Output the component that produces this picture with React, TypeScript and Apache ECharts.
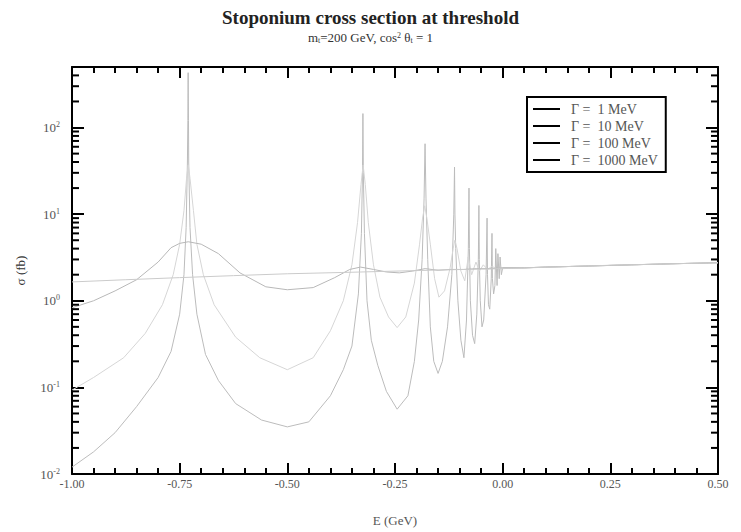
import React, { useEffect, useRef } from "react";
import * as echarts from "echarts";

const FONT = "Liberation Serif";

const seriesNames = ["Γ =  1 MeV", "Γ =  10 MeV", "Γ =  100 MeV", "Γ =  1000 MeV"];
const seriesColors = ["#bcbcbc", "#d6d6d6", "#b8b8b8", "#cbcbcb"];

const xTickMin = -1.0;
const xTickMax = 0.5;
const xTickStep = 0.25;
const yMin = 0.01;
const yMax = 500;
const yMinorMultipliers = [2, 3, 4, 5, 6, 7, 8, 9];
const yDecades = [0.01, 0.1, 1, 10, 100];

// Γ = 1 MeV
const e1 = [-1.0, -0.95, -0.9, -0.85, -0.8, -0.77, -0.75, -0.74, -0.735, -0.732, -0.731, -0.7303, -0.7295, -0.729, -0.726, -0.72, -0.71, -0.69, -0.66, -0.62, -0.56, -0.5, -0.45, -0.4, -0.37, -0.35, -0.335, -0.328, -0.3255, -0.3245, -0.3235, -0.321, -0.315, -0.305, -0.29, -0.27, -0.245, -0.22, -0.205, -0.195, -0.187, -0.1825, -0.181, -0.1802, -0.1795, -0.178, -0.174, -0.168, -0.16, -0.15, -0.14, -0.128, -0.118, -0.1135, -0.1118, -0.1108, -0.109, -0.104, -0.097, -0.09, -0.084, -0.0797, -0.0782, -0.0772, -0.075, -0.07, -0.065, -0.06, -0.0565, -0.0552, -0.0542, -0.052, -0.048, -0.044, -0.0385, -0.0362, -0.0352, -0.033, -0.03, -0.0265, -0.0248, -0.0238, -0.021, -0.018, -0.016, -0.013, -0.011, -0.008, -0.006, -0.003, 0.0, 0.05, 0.1, 0.2, 0.3, 0.4, 0.5];
const s1 = [0.012, 0.018, 0.03, 0.06, 0.13, 0.26, 0.7, 2.0, 7, 40, 120, 430, 120, 40, 7, 2.0, 0.7, 0.24, 0.12, 0.065, 0.042, 0.035, 0.04, 0.08, 0.16, 0.3, 1.2, 6, 30, 145, 30, 6, 1.0, 0.35, 0.18, 0.09, 0.056, 0.08, 0.2, 0.6, 3, 15, 40, 65, 40, 15, 3, 0.5, 0.2, 0.145, 0.2, 0.5, 2, 10, 35, 10, 4, 1, 0.35, 0.22, 0.6, 4, 20, 4, 1, 0.4, 0.32, 0.7, 3, 12.6, 3, 1, 0.5, 0.6, 2, 9, 2, 0.9, 0.8, 1.8, 6, 1.8, 1.2, 1.5, 4, 1.5, 3.5, 1.8, 3.2, 2.0, 2.4, 2.4, 2.45, 2.52, 2.6, 2.68, 2.75];

// Γ = 10 MeV
const e10 = [-1.0, -0.95, -0.88, -0.83, -0.79, -0.765, -0.75, -0.74, -0.734, -0.73, -0.726, -0.718, -0.71, -0.695, -0.67, -0.62, -0.564, -0.5, -0.44, -0.4, -0.37, -0.35, -0.337, -0.329, -0.324, -0.319, -0.312, -0.3, -0.285, -0.265, -0.245, -0.225, -0.205, -0.193, -0.186, -0.181, -0.176, -0.168, -0.158, -0.148, -0.135, -0.122, -0.115, -0.111, -0.106, -0.097, -0.088, -0.08, -0.072, -0.062, -0.054, -0.045, -0.035, -0.025, -0.015, 0.0, 0.05, 0.1, 0.2, 0.3, 0.4, 0.5];
const s10 = [0.093, 0.13, 0.22, 0.42, 0.9, 2.0, 4.5, 11, 26, 37, 26, 11, 4.5, 2.0, 0.9, 0.38, 0.22, 0.16, 0.22, 0.45, 1.0, 2.6, 8, 22, 37, 22, 8, 2.6, 1.1, 0.65, 0.49, 0.65, 1.6, 4.5, 9, 12.5, 9, 4.5, 1.8, 1.1, 1.3, 2.4, 4, 5, 4, 2.2, 1.7, 3.2, 2.0, 2.8, 2.2, 2.6, 2.3, 2.5, 2.35, 2.4, 2.4, 2.45, 2.52, 2.6, 2.68, 2.75];

// Γ = 100 MeV
const e100 = [-1.0, -0.95, -0.9, -0.85, -0.8, -0.77, -0.75, -0.73, -0.7, -0.66, -0.61, -0.55, -0.5, -0.44, -0.39, -0.355, -0.33, -0.3, -0.27, -0.24, -0.21, -0.18, -0.15, -0.12, -0.09, -0.06, -0.03, 0.0, 0.05, 0.1, 0.2, 0.3, 0.4, 0.5];
const s100 = [0.83, 1.0, 1.3, 1.75, 2.8, 4.1, 4.6, 4.8, 4.5, 3.5, 2.1, 1.45, 1.34, 1.42, 1.85, 2.3, 2.45, 2.3, 2.15, 2.1, 2.2, 2.35, 2.25, 2.3, 2.3, 2.35, 2.35, 2.4, 2.4, 2.45, 2.52, 2.6, 2.68, 2.75];

// Γ = 1000 MeV
const e1000 = [-1.0, -0.875, -0.75, -0.625, -0.5, -0.375, -0.25, -0.125, 0.0, 0.125, 0.25, 0.375, 0.5];
const s1000 = [1.65, 1.75, 1.85, 1.95, 2.05, 2.12, 2.2, 2.28, 2.35, 2.46, 2.57, 2.66, 2.75];

const curveX = [e1, e10, e100, e1000];
const curveY = [s1, s10, s100, s1000];

const axisBlack = { color: "#000", width: 2 };

export default function App() {
  const ref = useRef<HTMLDivElement>(null);

  useEffect(() => {
    if (!ref.current) return;
    const chart = echarts.init(ref.current, null, { renderer: "svg" });

    const minorTickData: number[][] = [];
    yDecades.forEach((d) => {
      yMinorMultipliers.forEach((m) => {
        const v = d * m;
        if (v < yMax) minorTickData.push([xTickMin, v]);
      });
    });

    const lineSeries = seriesNames.map((name, i) => ({
      name,
      type: "line",
      data: curveX[i].map((x, j) => [x, curveY[i][j]]),
      showSymbol: false,
      symbol: "none",
      lineStyle: { color: seriesColors[i], width: 1 },
      itemStyle: { color: "#000" },
      z: 2,
    }));

    const yLabelFmt = (v: number) => {
      const p = Math.log10(v);
      const r = Math.round(p);
      if (Math.abs(p - r) > 1e-6) return "";
      return "10{sup|" + r + "}";
    };

    const option: any = {
      animation: false,
      backgroundColor: "#fff",
      textStyle: { fontFamily: FONT },
      title: {
        text: "Stoponium cross section at threshold",
        subtext: "m{sub|t}=200 GeV, cos{sup|2} θ{sub|t} = 1",
        left: "center",
        top: 3,
        padding: [5, 0, 5, 28],
        itemGap: 4,
        textStyle: { fontFamily: FONT, fontSize: 19, fontWeight: "bold", color: "#222" },
        subtextStyle: {
          fontFamily: FONT,
          fontSize: 13,
          color: "#333",
          rich: {
            sub: { fontSize: 8, verticalAlign: "bottom", fontFamily: FONT, color: "#333" },
            sup: { fontSize: 8, verticalAlign: "top", fontFamily: FONT, color: "#333" },
          },
        },
      },
      legend: {
        data: seriesNames,
        orient: "vertical",
        left: 527,
        top: 97,
        padding: [5, 8, 5, 6],
        itemGap: 3,
        itemWidth: 27,
        itemHeight: 2,
        icon: "rect",
        itemStyle: { color: "#000" },
        borderColor: "#000",
        borderWidth: 2,
        borderRadius: 0,
        backgroundColor: "#fff",
        textStyle: { fontFamily: FONT, fontSize: 14, color: "#555", padding: [0, 0, 0, 6] },
      },
      grid: { left: 72, right: 23, top: 67, bottom: 57 },
      xAxis: [
        {
          type: "value",
          min: xTickMin,
          max: xTickMax,
          interval: xTickStep,
          position: "bottom",
          axisLine: { show: true, onZero: false, lineStyle: axisBlack },
          axisTick: { show: true, inside: true, length: 11, lineStyle: axisBlack },
          minorTick: { show: true, splitNumber: 5, length: 6, lineStyle: axisBlack },
          splitLine: { show: false },
          axisLabel: {
            formatter: (v: number) => v.toFixed(2),
            color: "#555",
            fontSize: 12,
            fontFamily: FONT,
            margin: 4,
          },
          name: "E (GeV)",
          nameLocation: "middle",
          nameGap: 40,
          nameTextStyle: { fontFamily: FONT, fontSize: 13, color: "#555" },
        },
        {
          type: "value",
          min: xTickMin,
          max: xTickMax,
          interval: xTickStep,
          position: "top",
          axisLine: { show: true, onZero: false, lineStyle: axisBlack },
          axisTick: { show: true, inside: true, length: 11, lineStyle: axisBlack },
          minorTick: { show: true, splitNumber: 5, length: 6, lineStyle: axisBlack },
          splitLine: { show: false },
          axisLabel: { show: false },
        },
      ],
      yAxis: [
        {
          type: "log",
          logBase: 10,
          min: yMin,
          max: yMax,
          position: "left",
          axisLine: { show: true, onZero: false, lineStyle: axisBlack },
          axisTick: { show: true, inside: true, length: 12, lineStyle: axisBlack },
          splitLine: { show: false },
          axisLabel: {
            formatter: yLabelFmt,
            color: "#555",
            fontSize: 13,
            fontFamily: FONT,
            margin: 12,
            rich: {
              sup: { fontSize: 8, verticalAlign: "top", fontFamily: FONT, color: "#555", padding: [0, 0, 6, 0] },
            },
          },
          name: "σ (fb)",
          nameLocation: "middle",
          nameGap: 45,
          nameRotate: 90,
          nameTextStyle: { fontFamily: FONT, fontSize: 13, color: "#333" },
        },
        {
          type: "log",
          logBase: 10,
          min: yMin,
          max: yMax,
          position: "right",
          axisLine: { show: true, onZero: false, lineStyle: axisBlack },
          axisTick: { show: true, inside: true, length: 12, lineStyle: axisBlack },
          splitLine: { show: false },
          axisLabel: { show: false },
        },
      ],
      series: [
        ...lineSeries,
        {
          type: "custom",
          silent: true,
          xAxisIndex: 0,
          yAxisIndex: 0,
          data: minorTickData,
          renderItem: (params: any, api: any) => {
            const y = api.coord([api.value(0), api.value(1)])[1];
            const cs = params.coordSys;
            return {
              type: "group",
              children: [
                { type: "line", shape: { x1: cs.x, y1: y, x2: cs.x + 7, y2: y }, style: { stroke: "#000", lineWidth: 2 } },
                { type: "line", shape: { x1: cs.x + cs.width, y1: y, x2: cs.x + cs.width - 7, y2: y }, style: { stroke: "#000", lineWidth: 2 } },
              ],
            };
          },
          z: 3,
        },
      ],
    };

    chart.setOption(option);
    return () => chart.dispose();
  }, []);

  return <div ref={ref} style={{ position: "fixed", left: 0, top: 0, width: 741, height: 532, background: "#fff" }} />;
}
